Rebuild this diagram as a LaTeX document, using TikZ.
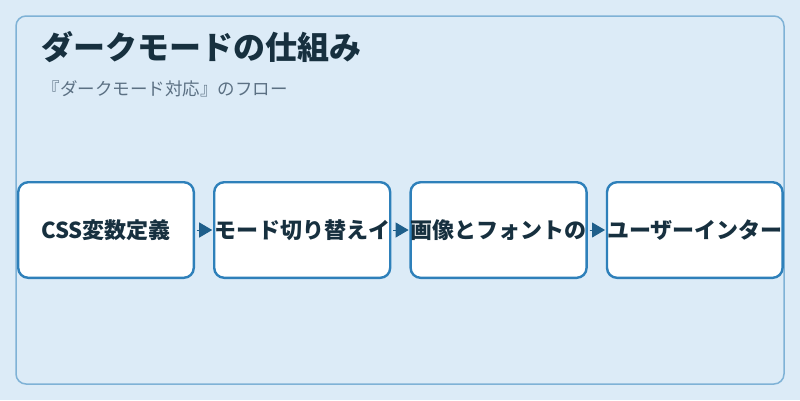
\documentclass[tikz,border=0pt]{standalone}
\usepackage{fontspec}
\setmainfont{Noto Sans CJK JP}
\usetikzlibrary{arrows.meta,positioning}
\definecolor{bgblue}{HTML}{DCEBF7}
\definecolor{frameblue}{HTML}{7FB2D6}
\definecolor{boxblue}{HTML}{2E80BA}
\definecolor{arrowblue}{HTML}{1F5F8B}
\definecolor{inkdark}{HTML}{17303F}
\definecolor{inkgrey}{HTML}{5B7083}
\tikzset{
	stepbox/.style={draw=boxblue, line width=2.4pt, fill=white, rounded corners=10pt,
		minimum width=175.6pt, minimum height=95.6pt, inner sep=0pt, outer sep=0pt,
		font=\bfseries\fontsize{22}{26}\selectfont, text=inkdark},
	flow/.style={draw=arrowblue, line width=1pt, shorten <=3pt, shorten >=2pt,
		-{Triangle[length=13pt,width=15pt]}, fill=arrowblue}
}
\begin{document}
	\begin{tikzpicture}[x=1pt, y=-1pt]
		\fill[bgblue] (0, 0) rectangle (800, 400);
		\draw[frameblue, line width=1.5pt, rounded corners=10pt] (16, 16) rectangle (784, 384);

		\node[anchor=base west, text=inkdark, font=\bfseries\fontsize{32}{38}\selectfont] (title) at (38, 59) {ダークモードの仕組み};
		\node[anchor=base west, text=inkgrey, font=\fontsize{17.5}{20}\selectfont] (subtitle) at (39, 95) {『ダークモード対応』のフロー};

		\node[stepbox] (css) at (106, 230) {CSS変数定義};
		\node[stepbox, right=20.4pt of css] (mode) {モード切り替えイ};
		\node[stepbox, right=20.4pt of mode] (image) {画像とフォントの};
		\node[stepbox, right=20.4pt of image] (user) {ユーザーインター};

		\draw[flow] (css) -- (mode);
		\draw[flow] (mode) -- (image);
		\draw[flow] (image) -- (user);
	\end{tikzpicture}
\end{document}
